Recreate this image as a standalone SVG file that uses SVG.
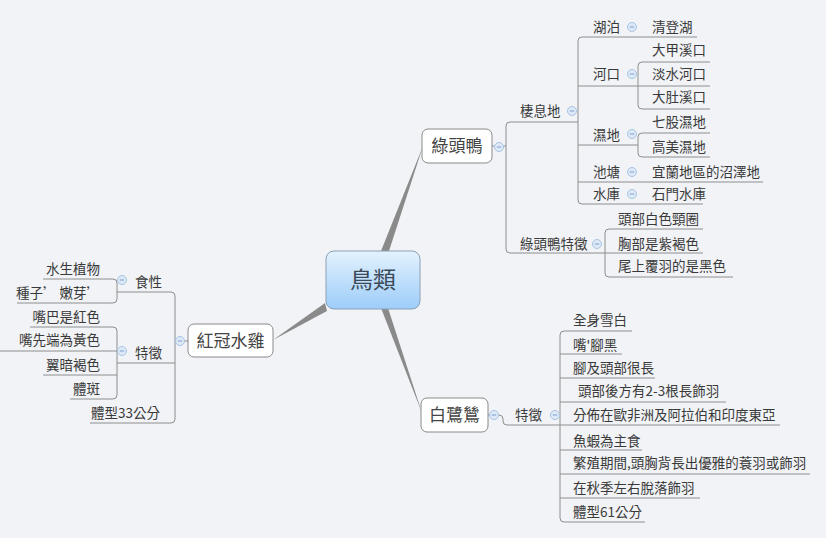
<svg xmlns="http://www.w3.org/2000/svg" width="826" height="538" viewBox="0 0 826 538">
<defs>
<linearGradient id="cg" x1="0" y1="0" x2="0" y2="1">
<stop offset="0" stop-color="#e4f2fe"/>
<stop offset="1" stop-color="#9ccdf9"/>
</linearGradient>
<g id="col"><circle r="4.5" fill="#dde9f7" stroke="#a8c3e3" stroke-width="1"/><path d="M-2.2,0 H2.2" stroke="#7f9fcf" stroke-width="1"/></g>
</defs>
<style>
.t{font-family:"Noto Sans CJK TC","Noto Sans CJK SC",sans-serif;font-size:13.5px;fill:#3a3a3a}
.n{font-family:"Noto Sans CJK TC","Noto Sans CJK SC",sans-serif;font-size:17px;fill:#444;text-anchor:middle}
.l{stroke:#8e8e8e;stroke-width:1;fill:none}
.box{fill:#fff;stroke:#8a8a8a;stroke-width:1}
.e{text-anchor:end}
</style>
<rect width="826" height="538" fill="#f1f3f6"/>
<g id="connectors">
<polygon points="381,251 389,251 423,146" fill="#8a8a8a"/>
<polygon points="381,308 388,308 422,413" fill="#8a8a8a"/>
<polygon points="325,303 327,311 273,340" fill="#8a8a8a"/>
<path class="l" d="M492,146 H506"/>
<path class="l" d="M578,122 H510 Q506,122 506,126 V249 Q506,253 510,253 H703"/>
<path class="l" d="M697,37 H582 Q578,37 578,41 V200 Q578,204 582,204 H703"/>
<path class="l" d="M578,86 H710"/>
<path class="l" d="M578,145 H638"/>
<path class="l" d="M578,182 H763"/>
<path class="l" d="M710,62 H642 Q638,62 638,66 V105 Q638,109 642,109 H710"/>
<path class="l" d="M710,133 H642 Q638,133 638,137 V153 Q638,157 642,157 H710"/>
<path class="l" d="M703,229 H609 Q605,229 605,233 V273 Q605,277 609,277 H733"/>
<path class="l" d="M488,415 H499 Q503,415 503,419 V421 Q503,425 507,425 H780"/>
<path class="l" d="M632,331 H564 Q560,331 560,335 V518 Q560,522 564,522 H645"/>
<path class="l" d="M560,354 H622 M560,378 H655 M560,402 H726 M560,450 H642 M560,474 H810 M560,498 H700"/>
<path class="l" d="M188,341 H175"/>
<path class="l" d="M117,292 H171 Q175,292 175,296 V419 Q175,423 171,423 H90"/>
<path class="l" d="M117,363 H175"/>
<path class="l" d="M43,279 H113 Q117,279 117,283 V299 Q117,303 113,303 H17"/>
<path class="l" d="M30,327 H113 Q117,327 117,331 V395 Q117,399 113,399 H70"/>
<path class="l" d="M0,351 H117 M43,375 H117"/>
</g>
<g id="node-root">
<rect x="326" y="251" width="94" height="58" rx="8" fill="url(#cg)" stroke="#8aa0b4" stroke-width="1"/>
<text x="373" y="288" class="n" style="font-size:23px;fill:#3c4a58">鳥類</text>
</g>
<g id="node-lutouya">
<rect x="422" y="129" width="70" height="34" rx="6" class="box"/>
<text x="457" y="152" class="n">綠頭鴨</text>
<use href="#col" x="499" y="147"/>
</g>
<g id="node-qixidi"><text x="520" y="116" class="t">棲息地</text><use href="#col" x="572" y="111"/></g>
<g id="node-hubo"><text x="593" y="32" class="t">湖泊</text><use href="#col" x="632" y="27"/></g>
<g id="node-qingdeng"><text x="652" y="32" class="t">清登湖</text></g>
<g id="node-hekou"><text x="593" y="79" class="t">河口</text><use href="#col" x="632" y="74"/></g>
<g id="node-dajia"><text x="652" y="55" class="t">大甲溪口</text></g>
<g id="node-danshui"><text x="652" y="79" class="t">淡水河口</text></g>
<g id="node-dadu"><text x="652" y="102" class="t">大肚溪口</text></g>
<g id="node-shidi"><text x="593" y="140" class="t">濕地</text><use href="#col" x="632" y="134"/></g>
<g id="node-qigu"><text x="652" y="127" class="t">七股濕地</text></g>
<g id="node-gaomei"><text x="652" y="152" class="t">高美濕地</text></g>
<g id="node-chitang"><text x="593" y="177" class="t">池塘</text><use href="#col" x="632" y="172"/></g>
<g id="node-yilan"><text x="652" y="177" class="t">宜蘭地區的沼澤地</text></g>
<g id="node-shuiku"><text x="593" y="199" class="t">水庫</text><use href="#col" x="632" y="194"/></g>
<g id="node-shimen"><text x="652" y="199" class="t">石門水庫</text></g>
<g id="node-lutezheng"><text x="520" y="249" class="t">綠頭鴨特徵</text><use href="#col" x="597" y="244"/></g>
<g id="node-l1"><text x="618" y="224" class="t">頭部白色頸圈</text></g>
<g id="node-l2"><text x="618" y="249" class="t">胸部是紫褐色</text></g>
<g id="node-l3"><text x="618" y="271" class="t">尾上覆羽的是黑色</text></g>
<g id="node-bailusi">
<rect x="421" y="398" width="67" height="34" rx="6" class="box"/>
<text x="454.5" y="421" class="n">白鷺鷥</text>
<use href="#col" x="494" y="415"/>
</g>
<g id="node-btezheng"><text x="515" y="420" class="t">特徵</text><use href="#col" x="555" y="415"/></g>
<g id="node-b1"><text x="573" y="325" class="t">全身雪白</text></g>
<g id="node-b2"><text x="573" y="350" class="t">嘴'腳黑</text></g>
<g id="node-b3"><text x="573" y="373" class="t">腳及頭部很長</text></g>
<g id="node-b4"><text x="578" y="396" class="t">頭部後方有2-3根長飾羽</text></g>
<g id="node-b5"><text x="573" y="420" class="t">分佈在歐非洲及阿拉伯和印度東亞</text></g>
<g id="node-b6"><text x="573" y="446" class="t">魚蝦為主食</text></g>
<g id="node-b7"><text x="573" y="468" class="t">繁殖期間,頭胸背長出優雅的蓑羽或飾羽</text></g>
<g id="node-b8"><text x="573" y="493" class="t">在秋季左右脫落飾羽</text></g>
<g id="node-b9"><text x="573" y="517" class="t">體型61公分</text></g>
<g id="node-hongguan">
<rect x="188" y="324" width="85" height="33" rx="6" class="box"/>
<text x="230.5" y="347" class="n">紅冠水雞</text>
<use href="#col" x="180" y="341"/>
</g>
<g id="node-shixing"><text x="135" y="287" class="t">食性</text><use href="#col" x="122" y="280"/></g>
<g id="node-h1"><text x="100" y="274" class="t e">水生植物</text></g>
<g id="node-h2"><text x="100" y="298" class="t e">種子’ 嫩芽’</text></g>
<g id="node-htezheng"><text x="135" y="358" class="t">特徵</text><use href="#col" x="122" y="351"/></g>
<g id="node-h3"><text x="100" y="322" class="t e">嘴巴是紅色</text></g>
<g id="node-h4"><text x="100" y="345" class="t e">嘴先端為黃色</text></g>
<g id="node-h5"><text x="100" y="370" class="t e">翼暗褐色</text></g>
<g id="node-h6"><text x="100" y="394" class="t e">體斑</text></g>
<g id="node-h7"><text x="160" y="418" class="t e">體型33公分</text></g>
</svg>
